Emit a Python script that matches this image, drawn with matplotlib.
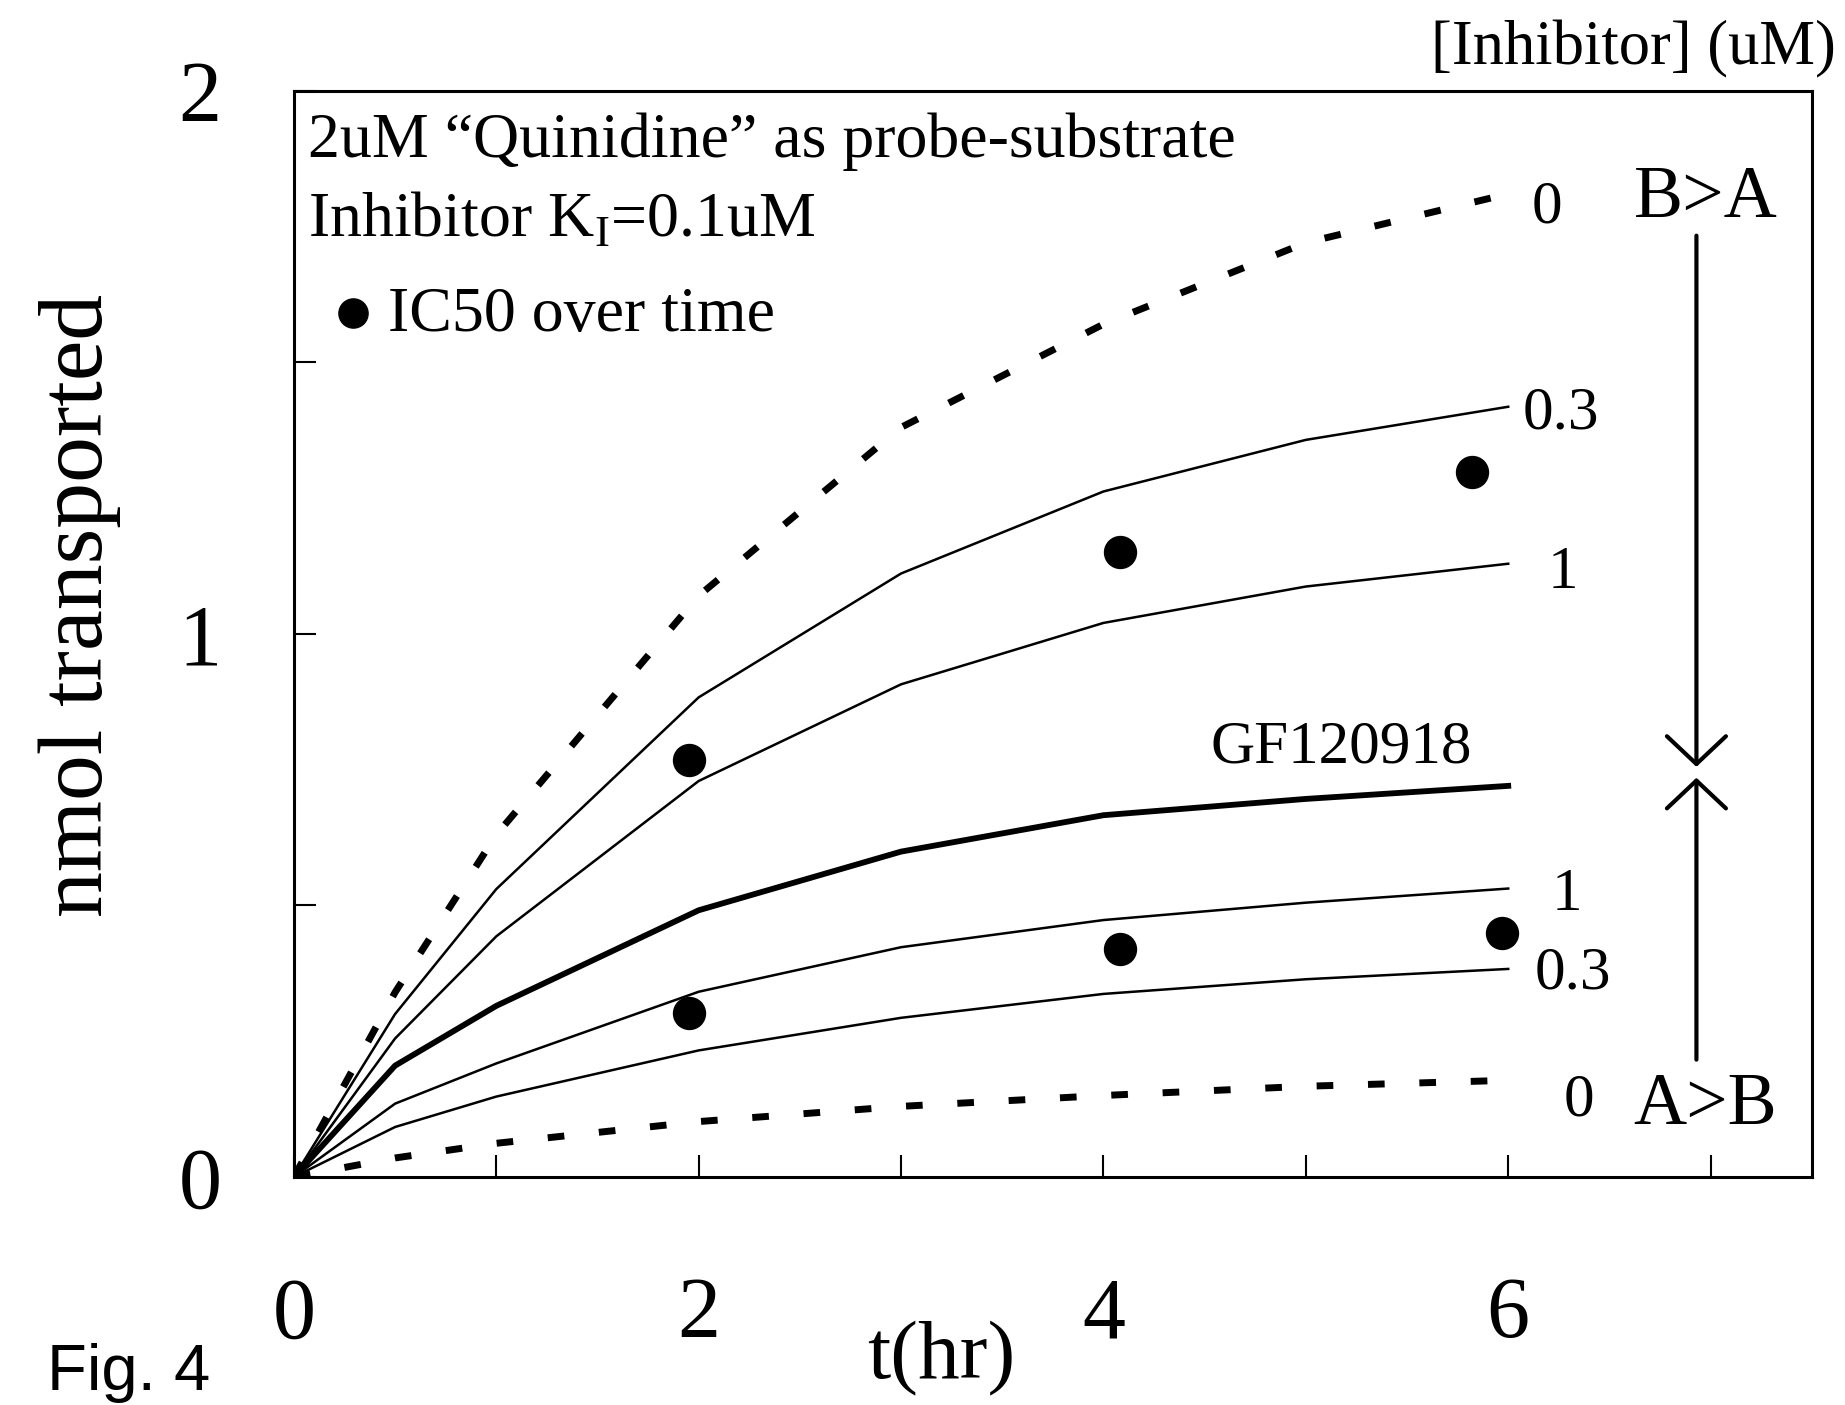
import numpy as np
import matplotlib
matplotlib.use("Agg")
import matplotlib.pyplot as plt

plt.rcParams['font.family'] = ['Liberation Serif', 'DejaVu Serif']
plt.rcParams['mathtext.fontset'] = 'custom'
plt.rcParams['mathtext.rm'] = 'Liberation Serif'
plt.rcParams['lines.scale_dashes'] = False

# time points (hr)
t = [0, 0.5, 1, 2, 3, 4, 5, 6]

# B>A direction
ba_0 = [0, 0.34, 0.63, 1.07, 1.38, 1.57, 1.72, 1.81]
ba_03 = [0, 0.30, 0.53, 0.883, 1.111, 1.262, 1.357, 1.418]
ba_1 = [0, 0.255, 0.443, 0.729, 0.907, 1.020, 1.087, 1.129]
# GF120918
gf = [0, 0.205, 0.315, 0.491, 0.599, 0.666, 0.696, 0.720]
# A>B direction
ab_1 = [0, 0.135, 0.209, 0.341, 0.423, 0.473, 0.505, 0.531]
ab_03 = [0, 0.092, 0.148, 0.233, 0.293, 0.337, 0.364, 0.383]
ab_0 = [0, 0.035, 0.062, 0.102, 0.130, 0.150, 0.167, 0.178]

# IC50 over time
ic50_up_t = [1.95, 4.08, 5.82]
ic50_up = [0.767, 1.150, 1.297]
ic50_lo_t = [1.95, 4.08, 5.97]
ic50_lo = [0.302, 0.419, 0.449]

xticks = [0, 1, 2, 3, 4, 5, 6, 7]
xticklabels = ['0', '', '2', '', '4', '', '6', '']
yticks = [0, 0.5, 1, 1.5, 2]
yticklabels = ['0', '', '1', '', '2']

fig = plt.figure(figsize=(18.45, 14.05), dpi=100)
ax = fig.add_axes([0.1593, 0.1623, 0.8227, 0.7732])

thin = 1.8
ax.plot(t, ba_03, color='black', lw=thin)
ax.plot(t, ba_1, color='black', lw=thin)
ax.plot(t, gf, color='black', lw=4.2)
ax.plot(t, ab_1, color='black', lw=thin)
ax.plot(t, ab_03, color='black', lw=thin)
ax.plot(t, ba_0, color='black', lw=5, linestyle=(0, (12, 25)))
ax.plot(t, ab_0, color='black', lw=5, linestyle=(0, (12, 25)))

ax.plot(ic50_up_t, ic50_up, 'o', color='black', ms=23)
ax.plot(ic50_lo_t, ic50_lo, 'o', color='black', ms=23)

ax.set_xlim(0, 7.5)
ax.set_ylim(0, 2)
ax.set_xticks(xticks)
ax.set_xticklabels(xticklabels)
ax.set_yticks(yticks)
ax.set_yticklabels(yticklabels)
ax.tick_params(axis='x', direction='in', length=16, width=1.5, labelsize=62, pad=72)
ax.tick_params(axis='y', direction='in', length=16, width=1.5, labelsize=62, pad=52)
for s in ax.spines.values():
    s.set_linewidth(2.2)

# curve labels
lab = 44
ax.text(6.19, 1.785, '0', fontsize=lab, ha='center', va='center')
ax.text(6.07, 1.406, '0.3', fontsize=lab, ha='left', va='center')
ax.text(6.27, 1.112, '1', fontsize=lab, ha='center', va='center')
ax.text(5.82, 0.791, 'GF120918', fontsize=lab, ha='right', va='center')
ax.text(6.29, 0.518, '1', fontsize=lab, ha='center', va='center')
ax.text(6.32, 0.375, '0.3', fontsize=lab, ha='center', va='center')
ax.text(6.35, 0.141, '0', fontsize=lab, ha='center', va='center')
ax.text(6.975, 1.80, 'B>A', fontsize=53, ha='center', va='center')
ax.text(6.975, 0.13, 'A>B', fontsize=53, ha='center', va='center')

# converging arrows
arr = dict(arrowstyle='->,head_length=0.8,head_width=0.85', lw=3.0, color='black',
           shrinkA=0, shrinkB=0, mutation_scale=25)
ax.annotate('', xy=(6.93, 0.755), xytext=(6.93, 1.733), arrowprops=arr)
ax.annotate('', xy=(6.93, 0.735), xytext=(6.93, 0.216), arrowprops=arr)

# annotation block
fig.text(0.1669, 0.899, '2uM \u201cQuinidine\u201d as probe-substrate', fontsize=46, ha='left', va='center')
fig.text(0.1669, 0.843, r'Inhibitor K$_\mathrm{I}$=0.1uM', fontsize=46, ha='left', va='center')
fig.lines.append(plt.Line2D([0.1913], [0.777], marker='o', color='black', ms=21,
                            transform=fig.transFigure))
fig.text(0.2103, 0.775, 'IC50 over time', fontsize=46, ha='left', va='center')

fig.text(0.995, 0.965, '[Inhibitor] (uM)', fontsize=45, ha='right', va='center')
fig.text(0.0434, 0.569, 'nmol transported', fontsize=66, rotation=90, ha='center', va='center')
fig.text(0.51, 0.033, 't(hr)', fontsize=60, ha='center', va='center')
fig.text(0.0255, 0.0228, 'Fig. 4', fontsize=47, family=['Liberation Sans'], ha='left', va='center')

fig.savefig('out.png', dpi=100)
